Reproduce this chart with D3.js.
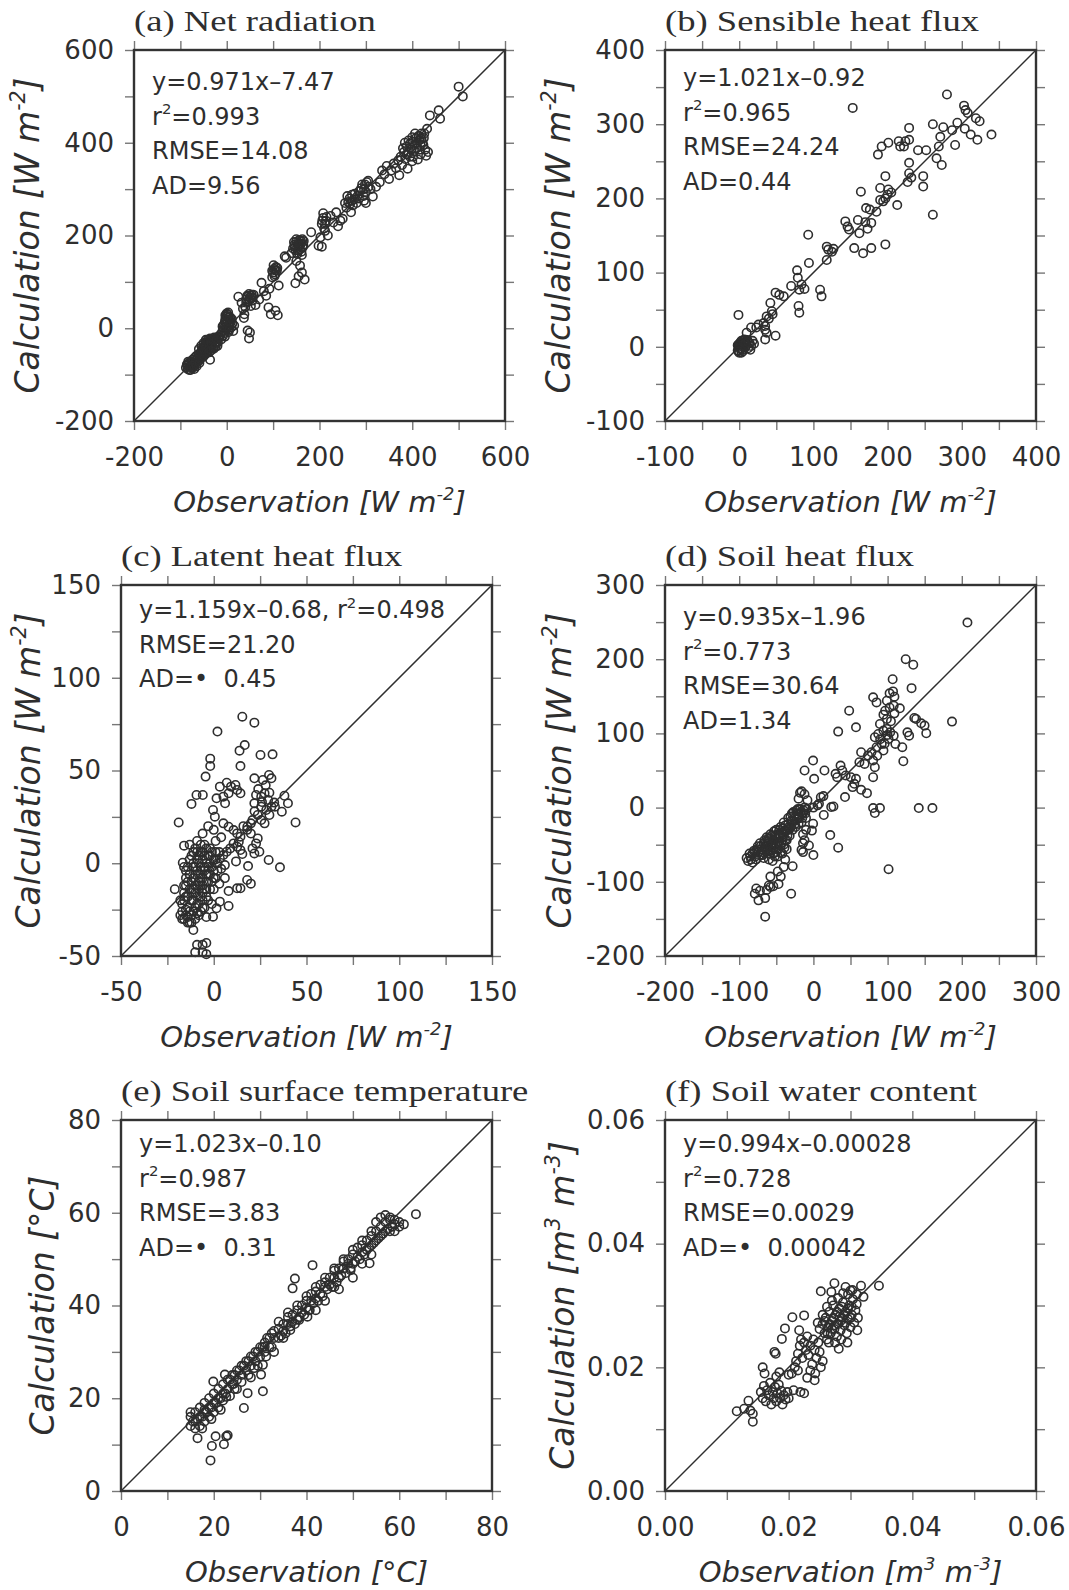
<!DOCTYPE html>
<html>
<head>
<meta charset="utf-8">
<script src="https://cdn.jsdelivr.net/npm/d3@7"></script>
<style>
  body { margin: 0; background: #fff; }
</style>
</head>
<body>
<div id="chart"></div>
<script>
const width = 1069;
const height = 1590;
const boxSize = 371;

// ---- data: [observation, calculation] ----
const netRadiation = [
  [-88,-85],[-85,-80],[-84,-88],[-82,-76],[-80,-83],[-79,-72],[-78,-90],[-76,-79],[-74,-68],[-73,-85],
  [-71,-75],[-70,-64],[-69,-80],[-67,-70],[-66,-60],[-64,-74],[-63,-66],[-61,-56],[-60,-70],[-58,-62],
  [-56,-52],[-55,-60],[-53,-45],[-52,-55],[-50,-40],[-49,-50],[-48,-58],[-46,-35],[-45,-46],[-44,-30],
  [-43,-52],[-42,-40],[-41,-25],[-40,-48],[-39,-35],[-38,-28],[-37,-44],[-36,-68],[-35,-32],[-34,-40],
  [-33,-24],[-32,-36],[-30,-30],[-29,-42],[-28,-26],[-26,-36],[-25,-22],[-23,-32],[-21,-28],[-20,-38],
  [-86,-78],[-83,-72],[-81,-90],[-77,-84],[-75,-73],[-72,-80],[-70,-88],[-68,-75],[-65,-82],[-62,-63],
  [-59,-75],[-57,-66],[-54,-50],[-51,-62],[-47,-42],[-45,-55],[-42,-33],[-40,-30],[-38,-52],[-36,-22],
  [-34,-48],[-31,-28],[-28,-44],[-27,-20],[-24,-40],[-22,-24],[-19,-30],[-18,-18],[-45,-25],[-50,-32],
  [-55,-38],[-60,-45],
  [-16,-20],[-14,-14],[-12,-24],[-10,-8],[-8,-16],[-7,0],[-6,8],[-5,-10],[-4,14],[-3,20],
  [-2,2],[-1,26],[0,10],[1,30],[2,18],[3,-4],[4,24],[5,6],[6,14],[8,20],[10,2],[12,10],[14,-6],[16,6],
  [-3,28],[0,32],[2,26],[-2,12],[1,0],[4,-8],[-6,-4],[-9,4],[7,24],[9,14],[11,20],[3,34],[-4,-18],[6,-2],
  [25,68],[32,55],[35,42],[38,30],[40,46],[42,62],[44,70],[46,58],[48,74],[50,66],[52,48],[54,72],
  [56,60],[45,-5],[50,-9],[48,-22],[37,22],[62,50],[70,62],[75,98],[80,80],[85,70],[90,45],[95,30],
  [42,55],[45,68],[48,62],[52,70],[55,66],[58,72],
  [98,110],[100,120],[102,128],[104,116],[106,132],[108,124],[110,28],[105,38],[112,92],[92,85],
  [98,124],[101,136],[105,125],[109,130],[103,112],
  [125,155],[128,152],[140,162],[143,172],[146,180],[148,168],[150,186],[152,160],[154,176],[156,190],
  [158,170],[160,182],[162,158],[164,175],[166,188],[150,145],[158,135],[155,112],[162,120],[148,97],
  [145,186],[150,192],[155,183],[160,188],[163,192],[165,180],[157,178],[153,168],[147,175],[161,165],
  [168,105],[182,207],[198,178],[205,176],[202,196],[208,248],[212,225],[215,240],[210,215],[218,200],
  [205,225],[208,238],[212,210],[206,232],[214,232],
  [224,242],[230,228],[236,250],[240,220],[245,232],[250,236],[258,260],[262,272],[265,280],[268,250],
  [270,288],[272,265],[275,278],[280,270],[285,295],[290,302],[295,285],[298,310],[300,294],[305,318],
  [255,270],[260,285],[266,268],[270,275],[276,290],[282,285],[288,296],[292,310],[296,300],[302,315],
  [306,305],[296,275],[285,280],
  [310,300],[300,270],[315,284],[322,305],[330,315],[335,340],[340,332],[345,350],[350,322],[355,340],
  [360,355],[365,345],[370,362],[372,330],[375,370],[378,352],[382,380],[385,365],[388,392],[390,344],
  [392,378],[395,398],[398,385],[400,402],[402,370],[405,395],[408,410],[410,388],[412,364],[415,405],
  [418,395],[420,420],[422,400],[425,410],[428,385],[430,372],[432,430],[434,380],[438,459],[457,470],
  [380,388],[384,400],[388,375],[392,405],[396,390],[400,412],[404,382],[406,420],[410,400],[414,415],
  [416,385],[420,408],[424,395],[426,420],[418,375],[400,360],[395,370],
  [460,452],[500,521],[509,500]
];

const sensibleHeat = [
  [-2,-5],[0,0],[1,5],[2,-3],[3,8],[4,2],[5,-6],[6,4],[7,10],[8,-1],[9,6],[10,2],[12,-2],[14,5],
  [16,1],[18,8],[20,4],[-1,3],[3,-8],[11,9],[15,-4],[0,-8],[2,6],[4,-4],[6,8],[-2,2],[1,-2],[8,4],
  [12,6],[-1,-6],
  [-1,43],[10,19],[16,26],[23,26],[26,30],[33,32],[35,28],[35,23],[37,19],[37,41],[35,10],[49,15],
  [42,59],[44,48],[49,73],[54,70],[40,38],[45,44],[60,68],[70,82],[78,103],[79,93],[84,84],[88,78],
  [81,77],[80,55],[81,46],[93,151],[94,113],[109,77],[111,68],[118,135],[120,131],[125,128],[127,132],
  [118,117],[143,169],[146,162],[148,158],[155,133],[167,126],[178,133],[197,138],[160,171],[162,153],
  [164,209],[171,187],[176,185],[173,159],[178,167],[190,214],[190,198],[194,196],[197,200],[197,230],
  [201,212],[213,191],[187,259],[192,270],[201,275],[215,277],[217,270],[222,270],[224,277],[229,279],
  [229,295],[229,248],[229,234],[227,222],[241,265],[248,230],[248,216],[252,265],[261,300],[261,178],
  [266,254],[269,270],[271,283],[273,245],[275,296],[280,340],[287,292],[291,272],[294,302],[303,325],
  [305,319],[308,315],[304,294],[312,286],[319,308],[324,304],[321,279],[340,286],[153,322],[232,228],
  [200,205],[185,182],[170,168],[205,208]
];

const latentHeat = [
  [-21,-14],[-18,-20],[-17,-26],[-16,-30],[-15,-18],[-15,-8],[-14,-24],[-14,-2],[-13,-14],[-13,-32],
  [-12,-20],[-12,4],[-11,-8],[-11,-26],[-10,-16],[-10,8],[-10,-2],[-9,-22],[-9,-12],[-9,12],
  [-8,0],[-8,-28],[-7,-6],[-7,-18],[-7,6],[-6,-12],[-6,2],[-6,-24],[-5,-4],[-5,10],
  [-4,-10],[-4,-18],[-3,4],[-3,-6],[-2,-14],[-2,8],[-1,-2],[-1,-22],[0,2],[0,-8],[1,6],[2,-4],
  [-16,9.5],[-16.7,0.3],[-11,-36],[-15,-25],[-14,-29],[-9,-27],
  [-17,-22],[-16,-16],[-16,-12],[-15,-28],[-15,-4],[-14,-10],[-14,-18],[-13,-6],[-13,-26],[-13,2],
  [-12,-16],[-12,-10],[-12,-28],[-11,-2],[-11,-14],[-11,-20],[-11,6],[-10,-6],[-10,-24],[-10,-30],
  [-10,-12],[-9,-4],[-9,2],[-9,-18],[-9,6],[-8,-10],[-8,-14],[-8,-22],[-8,4],[-8,-6],
  [-7,-2],[-7,-12],[-7,-26],[-7,10],[-6,-8],[-6,-16],[-6,-20],[-6,6],[-5,-2],[-5,-14],
  [-5,-24],[-5,4],[-4,-6],[-4,0],[-4,-14],[-4,8],[-3,-2],[-3,-10],[-3,-20],[-2,-6],
  [-2,0],[-2,4],[-1,-10],[-1,6],[0,-4],[0,-14],[1,-8],[1,2],[2,0],[3,6],
  [-18,-28],[-17,-30],[-16,-20],[-14,-32],[-12,-32],[-16,-2],[-13,10],[-15,-12],[-11,0],
  [-9,-44],[-6,-44],[-4,-43],[-10,-48],[-6,-48],[-4,-49],
  [3,-11],[6,-8],[8,-15],[12.6,-13.5],[14.4,-13.5],[18,-9],[20,-11],[3.3,-20.7],[8,-23],[1.5,-24.3],
  [-0.4,-28.8],[-4,-29],[4,-3],[6,-1],[12,1],[18.5,-1.5],[29.6,1.8],[35.7,-2.2],
  [3.3,2.6],[5.2,4.4],[7,6.2],[8.9,8],[10.7,10.7],[13.5,11.6],[14.4,14.3],[12.6,16.1],[10.7,17.9],
  [8,19.7],[5.2,21.5],[12.6,8.9],[14.4,7.1],[15.4,5],[21.9,5.3],[22.8,10.7],[23.7,13.4],[24.6,6.2],
  [20.9,8],[1,12],[4,14],[0,18],[-3,20],[-6,16],[18,18],[16,20],[20,16],
  [3.3,41.3],[7,43.4],[9.3,41.3],[11.7,42.2],[12.6,39.5],[14.4,37.7],[8,37.7],[5.2,35.9],[1.5,35],
  [-0.4,28.7],[0.6,25.1],[6.1,32.3],[-9.3,36.8],[-5.9,36.8],[-12,32],[-18.9,22],[-4.4,46.7],
  [-1.9,52.4],[-1.9,56.4],[2,71],[15.4,79],[21.9,75.8],[16.7,63.7],[13.9,60.7],[25.2,58.4],[31.7,58.7],
  [14.4,52.4],[29.8,47.6],[31.1,45.8],[26.5,44.9],[21.9,45.8],
  [22.8,36.8],[25.6,35.9],[27.4,37.7],[29.3,34.1],[25.6,30.5],[21.9,32.3],[28.3,28.7],[31.1,30.5],
  [23.7,26],[20,21.5],[18.1,19.7],[20.9,23.3],[25.6,23.3],[27.4,21.5],[33,30.5],[32.6,32.7],[38.1,36.4],
  [40,32.3],[36.7,27.8],[44.1,22],[24,40],[28,42],[30,38],[26,33],[22,28],[30,26]
];

const soilHeat = [
  [-90,-68],[-86,-62],[-84,-70],[-80,-58],[-78,-66],[-75,-52],[-74,-60],[-72,-48],[-70,-56],[-68,-64],
  [-66,-44],[-65,-52],[-63,-40],[-62,-58],[-60,-48],[-58,-36],[-57,-54],[-55,-44],[-54,-62],[-52,-38],
  [-51,-50],[-50,-30],[-48,-46],[-47,-56],[-45,-36],[-44,-26],[-43,-48],[-41,-40],[-40,-20],[-39,-54],
  [-37,-32],[-36,-44],[-34,-14],[-33,-26],[-32,-38],[-30,-18],[-29,-8],[-28,-30],[-26,-12],[-25,-22],
  [-23,-4],[-22,-16],[-20,-10],[-18,-2],[-16,-20],[-14,-8],[-12,0],[-10,-14],[-60,-70],[-55,-72],
  [-48,-66],[-42,-62],[-38,-70],
  [-88,-72],[-85,-66],[-82,-62],[-82,-74],[-79,-60],[-77,-70],[-76,-56],[-73,-64],[-71,-52],[-69,-60],
  [-67,-48],[-67,-68],[-64,-56],[-64,-46],[-61,-52],[-61,-42],[-59,-62],[-59,-44],[-56,-48],[-56,-58],
  [-56,-38],[-53,-44],[-53,-54],[-53,-32],[-50,-42],[-50,-60],[-49,-36],[-47,-48],[-46,-30],[-46,-40],
  [-44,-52],[-43,-34],[-42,-44],[-41,-28],[-40,-36],[-38,-44],[-38,-24],[-36,-30],[-35,-38],[-34,-22],
  [-32,-28],[-31,-12],[-30,-26],[-28,-18],[-27,-6],[-25,-14],[-24,-26],[-22,-8],[-21,-2],[-19,-14],
  [-17,-6],[-15,-14],[-13,-4],[-11,-8],[-9,-2],[-44,-60],[-40,-50],[-36,-56],[-52,-66],[-58,-52],
  [-62,-48],[-70,-64],
  [-28,-79],[-58,-93],[-60,-105],[-44,-93],[-30,-116],[-79,-116],[-77,-109],[-72,-112],[-74,-125],
  [-65,-122],[-63,-111],[-58,-107],[-54,-106],[-47,-103],[-65,-147],[-40,-80],[-48,-86],
  [-14,-48],[-14,-60],[-16,-57],[-12,-44],[-0.4,-21.7],[-2,-31],[-6,-51],[0,-64],[14,-10],[22.7,-37],
  [33.4,-54],[-10,-30],[-20,-22],[-14,-36],
  [-18,20],[-16,22],[-12,18],[-20,12],[-8,10],[0,0],[5.6,3],[7.5,5.2],[10,14],[13.5,15.5],[1,38.8],
  [-0.4,63.4],[14.9,50],[-11.9,50],[24,0.7],[27,1.6],[29.9,45.5],[32,41],[36.6,56.7],[38.9,50],
  [43.5,43.3],[50.5,41],[57.4,38.8],[52.8,27.6],[55.1,32.1],[42.6,14.2],[33.4,102.4],[48.2,130.6],
  [57.4,108.2],[64.3,24],[72.2,19.5],[62,61.2],[69,58.9],[73.6,70.2],[64.3,74.6],[78.2,74.6],
  [80.5,63.4],[82.8,54.5],[80.5,41],[80.5,-0.6],[89.7,-0.6],[82.8,-7.3],[142,-0.6],[160.4,-0.6],
  [101.3,-83],[89.7,112.7],[94.4,103.8],[87.4,99.3],[82.8,94.8],[99,106],[103.6,101.5],[108.2,97],
  [101.3,92.6],[92.1,85.8],[85.1,81.4],[94.4,76.9],[110.5,85.8],[119.8,81.4],[121.2,62.5],[126.7,101.5],
  [129,97],[136,120.8],[138.4,119.4],[145.2,113.6],[149.8,110.5],[152.1,100.2],[186.8,115.9],
  [80.5,148.6],[85.1,141.8],[96.7,130.6],[94.4,125.3],[102.7,135],[108.2,137.4],[116.5,133.8],
  [109.2,127],[104.5,116.3],[99,119.4],[102.7,154],[107.3,156.6],[109.2,149.5],[99,144],[106.8,173],
  [132.3,161],[124.4,200],[134.6,192.5],[207.6,249.4],[90,92],[96,86],[100,98],[86,70]
];

const soilTemp = [
  [15,14],[15,16],[15.5,15],[16,13.5],[16,17],[16.5,15.5],[17,14],[17,18],[17.5,16],[18,15],
  [18,19],[18.5,17],[19,16],[19,20],[19.5,18],[20,17],[20,21],[20.5,19],[21,18],[21,22],
  [21.5,20],[22,19.5],[22,23],[22.5,21],[23,22],[23.5,24],[24,23],[24.5,25],[25,24],[25.5,26],
  [26,25],[26.5,27],[27,26],[27.5,28],[28,27],[28.5,29],[29,28],[29.5,30],[30,29],[30.5,31],
  [31,32],[31.5,33],[32,31],[32.5,34],[33,33],[34,35],[34.5,33.5],[35,36],[35.5,34],[36,37.5],
  [36.5,35.5],[37,38],[37.5,36],[38,39],[38.5,37.5],[39,40],[39.5,38],[40,41],[40.5,39],[41,42.5],
  [41.5,40.5],[42,43],[42.5,41],[43,44.5],[43.5,42],[44,45],[44.5,43.5],[45,46],[45.5,44],[46,47.5],
  [46.5,45],[47,48],[47.5,46.5],[48,49.5],[48.5,47],[49,50],[49.5,48],[50,51],[50.5,49.5],[51,52.5],
  [51.5,50],[52,53],[52.5,51],[53,54],[53.5,52.5],[54,55],[54.5,53.5],[55,56],[55.5,54.5],[56,57],
  [56.5,55.5],[57,58],[57.5,56.5],[58,58.5],[58.5,57],[59,57.5],[60,58],[61,57.5],[56,59],[55,58],
  [57,59.5],
  [15,17],[16,15],[17,16],[17.5,13.5],[18,17],[19,18],[19.5,15.5],[20,19],[21,20],[21.5,17.5],
  [22,21],[23,24],[23.5,20.5],[24,25],[24.5,22],[25,26],[26,27],[26,23.5],[27,28],[27.5,25],
  [28,29],[29,30],[29.5,27],[30,31],[31,30],[32,33],[32.5,31],[33,34.5],[34,33],[35,34.5],
  [36,36],[37,36.5],[38,37],[39,38.5],[40,39.5],[41,41],[42,41.5],[43,42.5],[44,44],[45,44.5],
  [46,46],[47,46],[48,48],[49,49],[50,49],[51,50.5],[52,51.5],[53,52],[54,53],[55,54],
  [56,55],[57,56],[58,56],[59,58.5],[60,57],[54,56],[52,54],[50,52],[48,50],[46,48],
  [44,46],[42,44],[40,42],[38,40],[36,38.5],[34,36.5],[58,59],[59,56],
  [63.6,59.7],[53.6,49.1],[49.5,47.6],[41.3,48.7],[37.5,45.8],[37,43.7],[40.2,37.6],[40.7,39],
  [38.4,36.9],[36.5,34.7],[31,31.1],[31.3,29],[30.6,27.2],[30.2,25.1],[28.7,26.5],[30.6,21.5],
  [27.3,21.1],[26.5,17.9],[22.4,25.1],[24.3,23.1],[19.9,23.6],[22.7,20.3],[16.5,11.4],[20.4,11.8],
  [22.7,11.8],[23,12],[22.2,10.1],[19.6,9.7],[19.3,6.6],[44,41],[46,44],[50,46],[52,49],[54,51],
  [47,43.5],[42,39],[33,30],[35,33],[28,24.5],[25,22],[18,17.5]
];

const soilWater = [
  [0.0346,0.0332],[0.0274,0.0336],[0.0252,0.0323],[0.0269,0.0322],[0.0292,0.0330],[0.0303,0.0325],
  [0.0317,0.0332],[0.0321,0.0314],[0.0311,0.0260],[0.0225,0.0284],[0.0206,0.0281],[0.0194,0.0263],
  [0.0189,0.0246],[0.0217,0.0260],[0.0177,0.0225],[0.0179,0.0222],[0.0158,0.0200],[0.0161,0.0190],
  [0.0116,0.0129],[0.0128,0.0133],[0.0135,0.0146],[0.0142,0.0125],[0.0142,0.0112],[0.0138,0.0130],
  [0.0225,0.0158],[0.0219,0.0160],[0.0208,0.0163],[0.0242,0.0179],[0.0243,0.0190],[0.0281,0.0230],
  [0.0155,0.0160],[0.0158,0.0150],[0.0160,0.0170],[0.0163,0.0145],[0.0165,0.0163],[0.0168,0.0155],
  [0.0170,0.0175],[0.0172,0.0140],[0.0174,0.0160],[0.0176,0.0150],[0.0178,0.0168],[0.0180,0.0145],
  [0.0182,0.0158],[0.0184,0.0172],[0.0186,0.0150],[0.0188,0.0162],[0.0190,0.0140],[0.0192,0.0155],
  [0.0195,0.0148],[0.0198,0.0160],[0.0200,0.0150],[0.0185,0.0192],[0.0180,0.0185],[0.0200,0.0188],
  [0.0205,0.0190],[0.0210,0.0200],[0.0215,0.0195],
  [0.0212,0.0210],[0.0215,0.0222],[0.0218,0.0235],[0.0220,0.0245],[0.0222,0.0215],[0.0225,0.0240],
  [0.0228,0.0228],[0.0230,0.0250],[0.0232,0.0220],[0.0235,0.0235],[0.0238,0.0205],[0.0240,0.0245],
  [0.0242,0.0228],[0.0245,0.0215],[0.0248,0.0240],[0.0250,0.0225],[0.0252,0.0200],[0.0255,0.0210],
  [0.0235,0.0195],[0.0230,0.0183],
  [0.0255,0.0270],[0.0258,0.0255],[0.0260,0.0280],[0.0262,0.0245],[0.0264,0.0265],[0.0266,0.0290],
  [0.0268,0.0255],[0.0270,0.0275],[0.0272,0.0300],[0.0274,0.0262],[0.0276,0.0285],[0.0278,0.0250],
  [0.0280,0.0270],[0.0282,0.0295],[0.0284,0.0260],[0.0286,0.0280],[0.0288,0.0305],[0.0290,0.0268],
  [0.0292,0.0290],[0.0294,0.0255],[0.0296,0.0278],[0.0298,0.0300],[0.0300,0.0265],[0.0302,0.0285],
  [0.0304,0.0310],[0.0306,0.0272],[0.0308,0.0292],[0.0310,0.0302],[0.0312,0.0280],[0.0265,0.0240],
  [0.0275,0.0240],[0.0285,0.0245],[0.0295,0.0240],[0.0280,0.0312],[0.0270,0.0308],[0.0262,0.0298],
  [0.0296,0.0318],[0.0288,0.0320],[0.0300,0.0324],[0.0310,0.0318],[0.0250,0.0262],[0.0255,0.0285],
  [0.0247,0.0272],
  [0.0258,0.0275],[0.0266,0.0270],[0.0272,0.0280],[0.0278,0.0290],[0.0284,0.0275],[0.0290,0.0285],
  [0.0296,0.0295],[0.0302,0.0298],[0.0275,0.0268],[0.0286,0.0298],[0.0300,0.0280],[0.0292,0.0272],
  [0.0282,0.0282],[0.0270,0.0262],[0.0263,0.0255]
];

// ---- tick labels ----
const netRadTicks = [-200, 0, 200, 400, 600];
const sensibleTicks = [-100, 0, 100, 200, 300, 400];
const latentTicks = [-50, 0, 50, 100, 150];
const soilHeatTicks = [-200, -100, 0, 100, 200, 300];
const soilTempTicks = [0, 20, 40, 60, 80];
const soilWaterTicks = [0, 0.02, 0.04, 0.06];

// ---- units and statistics text ----
const unitWm2 = [["[W m"], ["-2", "sup"], ["]"]];
const unitDegC = [["[°C]"]];
const unitM3 = [["[m"], ["3", "sup"], [" m"], ["-3", "sup"], ["]"]];

const gap = "\u00a0\u00a0";
const netRadStats = [[["y=0.971x–7.47"]], [["r"], ["2", "sup"], ["=0.993"]], [["RMSE=14.08"]], [["AD=9.56"]]];
const sensibleStats = [[["y=1.021x–0.92"]], [["r"], ["2", "sup"], ["=0.965"]], [["RMSE=24.24"]], [["AD=0.44"]]];
const latentStats = [[["y=1.159x–0.68, r"], ["2", "sup"], ["=0.498"]], [["RMSE=21.20"]], [["AD=•" + gap + "0.45"]]];
const soilHeatStats = [[["y=0.935x–1.96"]], [["r"], ["2", "sup"], ["=0.773"]], [["RMSE=30.64"]], [["AD=1.34"]]];
const soilTempStats = [[["y=1.023x–0.10"]], [["r"], ["2", "sup"], ["=0.987"]], [["RMSE=3.83"]], [["AD=•" + gap + "0.31"]]];
const soilWaterStats = [[["y=0.994x–0.00028"]], [["r"], ["2", "sup"], ["=0.728"]], [["RMSE=0.0029"]], [["AD=•" + gap + "0.00042"]]];

const intFmt = d => String(d);

const panels = [
  { title: "(a) Net radiation", data: netRadiation, domain: [-200, 600], ticks: netRadTicks, minor: 100,
    unit: unitWm2, stats: netRadStats, fmt: intFmt, x0: 134, y0: 50, ylabOff: 95, statsOff: 40 },
  { title: "(b) Sensible heat flux", data: sensibleHeat, domain: [-100, 400], ticks: sensibleTicks, minor: 50,
    unit: unitWm2, stats: sensibleStats, fmt: intFmt, x0: 665, y0: 50, ylabOff: 95, statsOff: 36 },
  { title: "(c) Latent heat flux", data: latentHeat, domain: [-50, 150], ticks: latentTicks, minor: 25,
    unit: unitWm2, stats: latentStats, fmt: intFmt, x0: 121, y0: 585, ylabOff: 81, statsOff: 33 },
  { title: "(d) Soil heat flux", data: soilHeat, domain: [-200, 300], ticks: soilHeatTicks, minor: 50,
    unit: unitWm2, stats: soilHeatStats, fmt: intFmt, x0: 665, y0: 585, ylabOff: 94, statsOff: 40 },
  { title: "(e) Soil surface temperature", data: soilTemp, domain: [0, 80], ticks: soilTempTicks, minor: 10,
    unit: unitDegC, stats: soilTempStats, fmt: intFmt, x0: 121, y0: 1120, ylabOff: 67, statsOff: 32 },
  { title: "(f) Soil water content", data: soilWater, domain: [0, 0.06], ticks: soilWaterTicks, minor: 0.01,
    unit: unitM3, stats: soilWaterStats, fmt: d3.format(".2f"), x0: 665, y0: 1120, ylabOff: 91, statsOff: 32 }
];

const ink = "#2e2e2e";
const sans = "DejaVu Sans";

// writes text made of normal / superscript pieces
function rich(text, segs, fs) {
  let up = 0;
  segs.forEach(([t, kind]) => {
    const sp = text.append("tspan").text(t);
    if (kind === "sup") {
      sp.attr("font-size", fs * 0.62).attr("dy", -fs * 0.42 + up);
      up = fs * 0.42;
    } else if (up) {
      sp.attr("dy", up);
      up = 0;
    }
  });
}

const svg = d3.select("#chart").append("svg")
  .attr("width", width)
  .attr("height", height);

panels.forEach(p => {
  const g = svg.append("g");
  const x = d3.scaleLinear().domain(p.domain).range([p.x0, p.x0 + boxSize]);
  const y = d3.scaleLinear().domain(p.domain).range([p.y0 + boxSize, p.y0]);
  const minorTicks = d3.range(p.domain[0], p.domain[1] + p.minor / 2, p.minor);

  // outward ticks on all four sides
  const tickAxes = [
    [d3.axisBottom(x), `translate(0,${p.y0 + boxSize})`],
    [d3.axisTop(x), `translate(0,${p.y0})`],
    [d3.axisLeft(y), `translate(${p.x0},0)`],
    [d3.axisRight(y), `translate(${p.x0 + boxSize},0)`]
  ];
  tickAxes.forEach(([ax, tr]) => {
    g.append("g")
      .attr("transform", tr)
      .attr("color", "#777")
      .call(ax.tickValues(minorTicks).tickSize(9).tickFormat(""))
      .call(s => s.select(".domain").remove())
      .selectAll("line").attr("stroke-width", 1.4);
  });

  // tick labels
  g.append("g")
    .attr("transform", `translate(0,${p.y0 + boxSize})`)
    .call(d3.axisBottom(x).tickValues(p.ticks).tickSize(0).tickPadding(27).tickFormat(p.fmt))
    .call(s => s.select(".domain").remove())
    .attr("font-family", sans).attr("font-size", 26).attr("color", ink);

  g.append("g")
    .attr("transform", `translate(${p.x0},0)`)
    .call(d3.axisLeft(y).tickValues(p.ticks).tickSize(0).tickPadding(20).tickFormat(p.fmt))
    .call(s => s.select(".domain").remove())
    .attr("font-family", sans).attr("font-size", 26).attr("color", ink);

  // 1:1 line
  g.append("line")
    .attr("x1", x(p.domain[0])).attr("y1", y(p.domain[0]))
    .attr("x2", x(p.domain[1])).attr("y2", y(p.domain[1]))
    .attr("stroke", ink).attr("stroke-width", 1.5);

  // points
  g.append("g").selectAll("circle")
    .data(p.data)
    .enter().append("circle")
    .attr("cx", d => x(d[0]))
    .attr("cy", d => y(d[1]))
    .attr("r", 4.2)
    .attr("fill", "none")
    .attr("stroke", ink)
    .attr("stroke-width", 1.6);

  // frame
  g.append("rect")
    .attr("x", p.x0).attr("y", p.y0)
    .attr("width", boxSize).attr("height", boxSize)
    .attr("fill", "none").attr("stroke", "#333").attr("stroke-width", 2.4);

  // statistics
  p.stats.forEach((line, i) => {
    const t = g.append("text")
      .attr("x", p.x0 + 18)
      .attr("y", p.y0 + p.statsOff + i * 34.5)
      .attr("font-family", sans).attr("font-size", 24).attr("fill", ink);
    rich(t, line, 24);
  });

  // title
  g.append("g")
    .attr("transform", `translate(${p.x0},${p.y0 - 19}) scale(1.22,1)`)
    .append("text")
    .attr("font-family", "Liberation Serif").attr("font-size", 30).attr("fill", ink)
    .text(p.title);

  // axis titles
  const xl = g.append("text")
    .attr("x", p.x0 + boxSize / 2)
    .attr("y", p.y0 + boxSize + 91)
    .attr("text-anchor", "middle")
    .attr("font-family", sans).attr("font-style", "italic").attr("font-size", 29).attr("fill", ink);
  rich(xl, [["Observation "], ...p.unit], 29);

  const yl = g.append("text")
    .attr("transform", `translate(${p.x0 - p.ylabOff},${p.y0 + boxSize / 2}) rotate(-90)`)
    .attr("text-anchor", "middle")
    .attr("font-family", sans).attr("font-style", "italic").attr("font-size", 33).attr("fill", ink);
  rich(yl, [["Calculation "], ...p.unit], 33);
});
</script>
</body>
</html>
